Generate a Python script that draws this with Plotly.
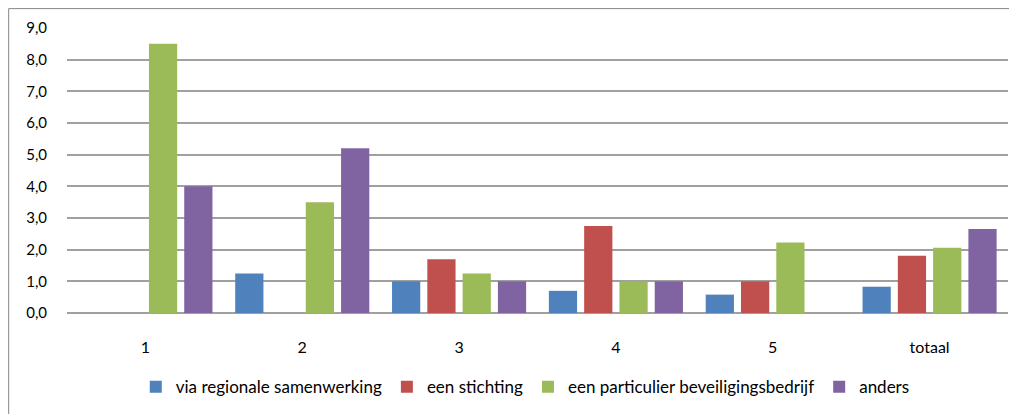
import plotly.graph_objects as go

# categories and series
categories = ["1", "2", "3", "4", "5", "totaal"]
via_regionale = [0, 1.25, 1.0, 0.7, 0.58, 0.83]
een_stichting = [0, 0, 1.7, 2.75, 1.0, 1.81]
particulier = [8.5, 3.5, 1.25, 1.0, 2.23, 2.06]
anders = [4.0, 5.2, 1.0, 1.0, 0, 2.65]

series_names = ["via regionale samenwerking", "een stichting",
                "een particulier beveiligingsbedrijf", "anders"]
series_values = [via_regionale, een_stichting, particulier, anders]
colors = ["#4F81BD", "#C0504D", "#9BBB59", "#8064A2"]

font_family = "Lato, Liberation Sans, Arial"

fig = go.Figure()

for name, vals, col in zip(series_names, series_values, colors):
    fig.add_trace(go.Bar(
        x=categories,
        y=vals,
        name=name,
        marker=dict(color=col, line=dict(width=0)),
        hoverinfo="x+y+name"
    ))

# outer chart border (page body margin puts the figure at 8,8)
fig.add_shape(type="rect", xref="paper", yref="paper",
              x0=-0.062, x1=1.02, y0=-0.4, y1=1.068,
              line=dict(color="#868686", width=1), fillcolor="rgba(0,0,0,0)",
              layer="below")

fig.update_layout(
    width=1009,
    height=406,
    margin=dict(l=59, r=9, t=20, b=97),
    barmode="group",
    bargap=0.1,
    bargroupgap=0.2,
    separators=",.",
    plot_bgcolor="white",
    paper_bgcolor="white",
    font=dict(family=font_family, size=15, color="black"),
    showlegend=True,
    legend=dict(
        orientation="h",
        x=0.487, xanchor="center",
        y=-0.26, yanchor="middle",
        font=dict(size=17),
        itemwidth=30,
        traceorder="normal"
    ),
    xaxis=dict(
        type="category",
        showgrid=False,
        zeroline=False,
        showline=False,
        ticks="outside",
        ticklen=20,
        tickcolor="rgba(0,0,0,0)",
        tickfont=dict(size=16)
    ),
    yaxis=dict(
        range=[0, 9],
        dtick=1,
        tickformat=".1f",
        showgrid=True,
        gridcolor="#a0a0a0",
        gridwidth=1.5,
        zeroline=True,
        zerolinecolor="#a0a0a0",
        zerolinewidth=1.5,
        showline=False,
        ticks="outside",
        ticklen=16,
        tickcolor="rgba(0,0,0,0)",
        tickfont=dict(size=15)
    )
)

fig.write_html("out.html")
